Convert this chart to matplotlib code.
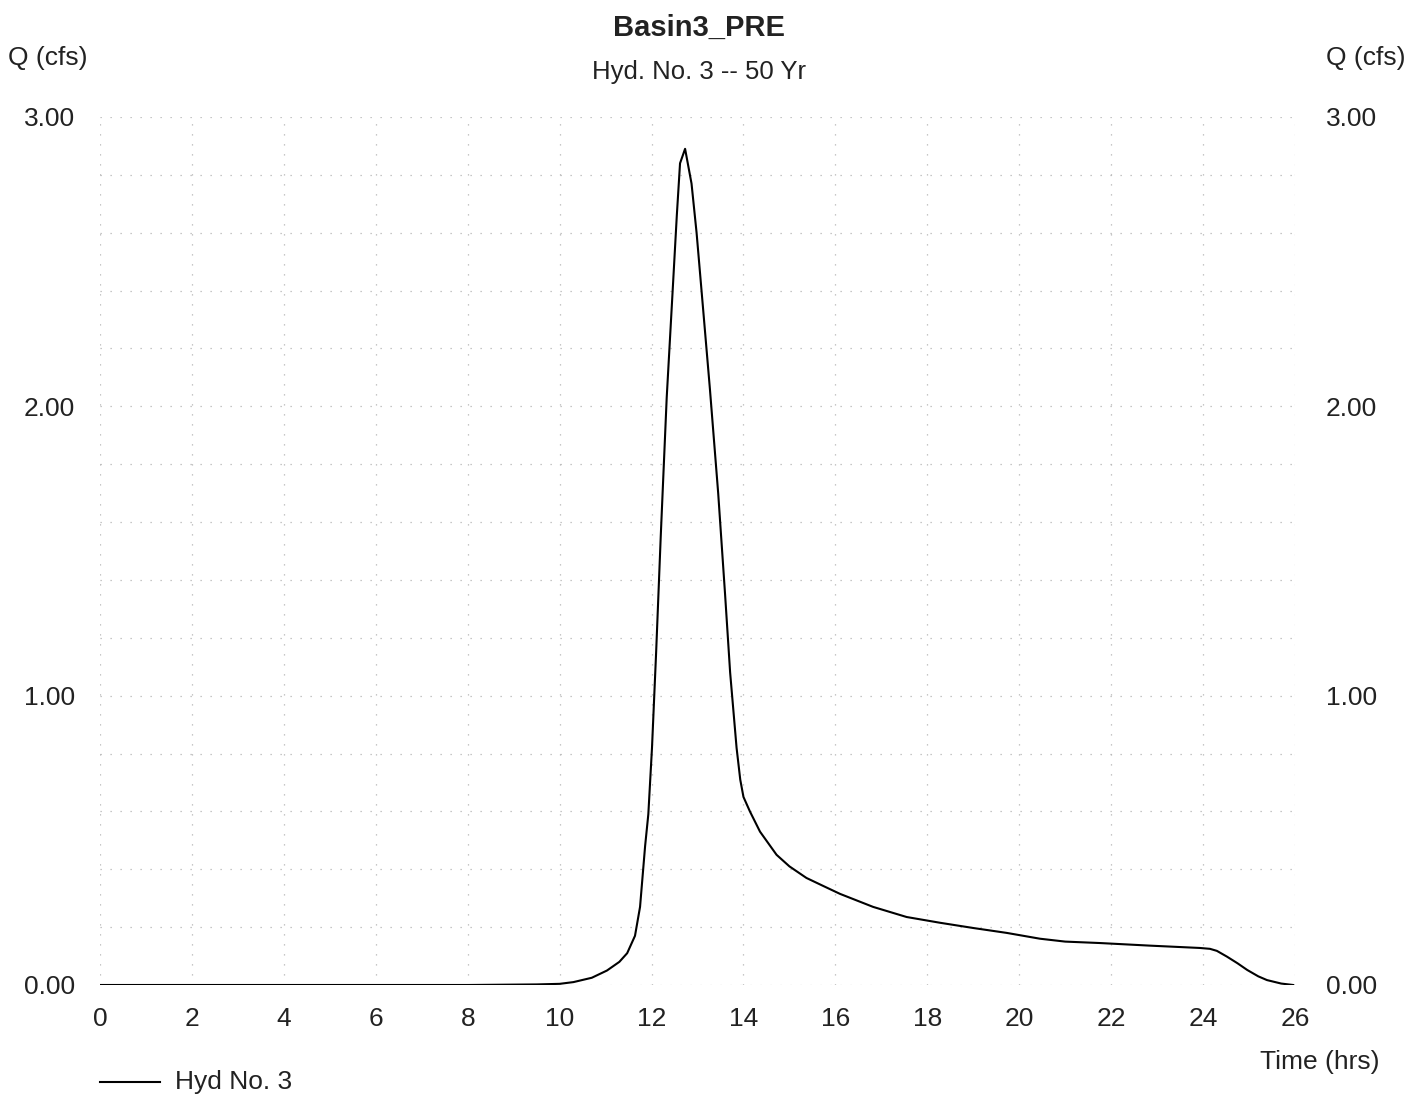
import matplotlib

matplotlib.use("Agg")
import matplotlib.pyplot as plt

# hydrograph ordinates (hrs, cfs)
time_hrs = [0, 2, 4, 6, 8, 9.5, 10.0, 10.3, 10.7, 11.03, 11.3, 11.47, 11.64, 11.75,
            11.86, 11.93, 12.01, 12.1, 12.2, 12.33, 12.47, 12.55, 12.62, 12.73, 12.87,
            12.98, 13.12, 13.27, 13.45, 13.6, 13.71, 13.85, 13.93, 14.0, 14.14, 14.36,
            14.72, 15.0, 15.37, 15.7, 16.1, 16.82, 17.55, 18.28, 19.0, 19.73, 20.45,
            21.0, 21.76, 22.85, 23.93, 24.15, 24.3, 24.52, 24.75, 24.96, 25.2, 25.39,
            25.7, 25.96]
flow_cfs = [0, 0, 0, 0, 0, 0.002, 0.004, 0.01, 0.025, 0.05, 0.08, 0.11, 0.17, 0.27,
            0.48, 0.59, 0.82, 1.15, 1.55, 2.03, 2.43, 2.66, 2.84, 2.89, 2.77,
            2.60, 2.34, 2.06, 1.70, 1.35, 1.08, 0.82, 0.71, 0.65, 0.60, 0.53,
            0.45, 0.41, 0.37, 0.345, 0.315, 0.27, 0.235, 0.215, 0.197, 0.18, 0.16,
            0.15, 0.145, 0.136, 0.128, 0.125, 0.118, 0.098, 0.075, 0.052, 0.03, 0.017,
            0.005, 0.0]

x_ticks = list(range(0, 27, 2))
y_ticks = [0.0, 1.0, 2.0, 3.0]
y_grid = [0.2 * i for i in range(16)]

title = "Basin3_PRE"
subtitle = "Hyd. No. 3 -- 50 Yr"
series_label = "Hyd No. 3"

plt.rcParams["font.family"] = ["Liberation Sans", "DejaVu Sans"]
TXT = "#222222"

fig = plt.figure(figsize=(14.24, 10.95), dpi=100)
ax = fig.add_axes([100 / 1424, 110 / 1095, 1195 / 1424, 868 / 1095])

# faint dotted grid, like the scanned original
grid_style = dict(color="#b5b5b5", linestyle=(0, (1, 7)), linewidth=0.9, zorder=0)
for gx in x_ticks:
    ax.axvline(gx, **grid_style)
for gy in y_grid:
    ax.axhline(gy, **grid_style)

ax.plot(time_hrs, flow_cfs, color="black", linewidth=1.5, zorder=3)

ax.set_xlim(0, 26)
ax.set_ylim(0, 3)
ax.set_xticks(x_ticks)
ax.set_xticklabels([str(v) for v in x_ticks])
ax.set_yticks(y_ticks)
ax.set_yticklabels([f"{v:.2f}" for v in y_ticks])
ax.tick_params(axis="both", length=0, labelsize=19, colors=TXT)
ax.tick_params(axis="x", pad=16)
ax.tick_params(axis="y", pad=18)
for s in ax.spines.values():
    s.set_visible(False)

ax2 = ax.twinx()
ax2.set_ylim(0, 3)
ax2.set_yticks(y_ticks)
ax2.set_yticklabels([f"{v:.2f}" for v in y_ticks])
ax2.tick_params(axis="y", length=0, labelsize=19, colors=TXT, pad=22)
for s in ax2.spines.values():
    s.set_visible(False)

fig.text(699 / 1424, 1 - 28 / 1095, title, ha="center", va="center",
         fontsize=21, fontweight="bold", color=TXT)
fig.text(699 / 1424, 1 - 72 / 1095, subtitle, ha="center", va="center",
         fontsize=18.5, color=TXT)
fig.text(8 / 1424, 1 - 58 / 1095, "Q (cfs)", ha="left", va="center",
         fontsize=19, color=TXT)
fig.text(1406 / 1424, 1 - 58 / 1095, "Q (cfs)", ha="right", va="center",
         fontsize=19, color=TXT)
fig.text(1379 / 1424, 1 - 1062 / 1095, "Time (hrs)", ha="right", va="center",
         fontsize=19, color=TXT)

# legend drawn as a short line + label below the axis
fig.add_artist(plt.Line2D([100 / 1424, 160 / 1424], [1 - 1082 / 1095] * 2,
                          color="black", linewidth=1.5, transform=fig.transFigure))
fig.text(175 / 1424, 1 - 1082 / 1095, series_label, ha="left", va="center",
         fontsize=19, color=TXT)

fig.savefig("out.png", dpi=100)
